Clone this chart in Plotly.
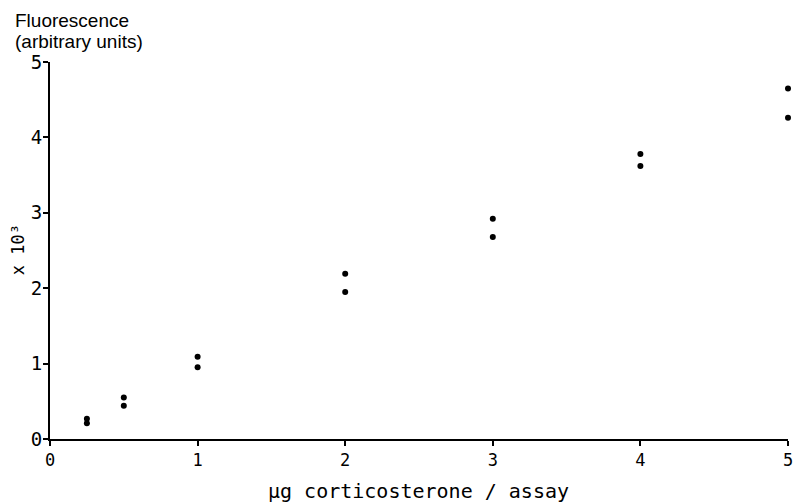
import plotly.graph_objects as go

# Corticosterone standard curve: duplicate fluorescence readings per dose
dose = [0.25, 0.25, 0.5, 0.5, 1, 1, 2, 2, 3, 3, 4, 4, 5, 5]
fluorescence = [0.27, 0.21, 0.55, 0.44, 1.09, 0.95, 2.19, 1.95, 2.92, 2.68, 3.78, 3.62, 4.65, 4.26]

tick_vals = [0, 1, 2, 3, 4, 5]
tick_text = ["0", "1", "2", "3", "4", "5"]

mono = "DejaVu Sans Mono"
sans = "Liberation Sans"

fig = go.Figure(
    go.Scatter(
        x=dose,
        y=fluorescence,
        mode="markers",
        marker=dict(color="black", size=6),
        cliponaxis=False,
        showlegend=False,
    )
)

axis_common = dict(
    showgrid=False,
    zeroline=False,
    showline=True,
    linecolor="black",
    linewidth=2,
    ticks="outside",
    ticklen=5,
    tickwidth=1.5,
    tickcolor="black",
    tickvals=tick_vals,
    ticktext=tick_text,
    range=[0, 5],
    fixedrange=True,
)

fig.update_xaxes(**axis_common, tickfont=dict(family=mono, size=17, color="black"))
fig.update_yaxes(**axis_common, tickfont=dict(family=mono, size=19, color="black"),
                 ticklabelstandoff=-3)

W, H = 743, 377  # plot-area size in pixels
L, T = 50, 62

def px(x):
    return (x - L) / W

def py(y):
    return (T + H - y) / H

fig.update_layout(
    width=799,
    height=502,
    margin=dict(l=L, r=799 - L - W, t=T, b=502 - T - H),
    plot_bgcolor="white",
    paper_bgcolor="white",
    annotations=[
        dict(
            text="Fluorescence",
            xref="paper", yref="paper",
            x=px(13), y=py(21),
            xanchor="left", yanchor="middle",
            showarrow=False,
            font=dict(family=sans, size=19, color="black"),
        ),
        dict(
            text="(arbitrary units)",
            xref="paper", yref="paper",
            x=px(13), y=py(42),
            xanchor="left", yanchor="middle",
            showarrow=False,
            font=dict(family=sans, size=19, color="black"),
        ),
        dict(
            text="x 10³",
            xref="paper", yref="paper",
            x=px(18), y=py(250),
            xanchor="center", yanchor="middle",
            textangle=-90,
            showarrow=False,
            font=dict(family=mono, size=17, color="black"),
        ),
        dict(
            text="µg corticosterone / assay",
            xref="paper", yref="paper",
            x=px(421), y=py(491),
            xanchor="center", yanchor="middle",
            showarrow=False,
            font=dict(family=mono, size=20, color="black"),
        ),
    ],
)

fig.write_html("out.html")
